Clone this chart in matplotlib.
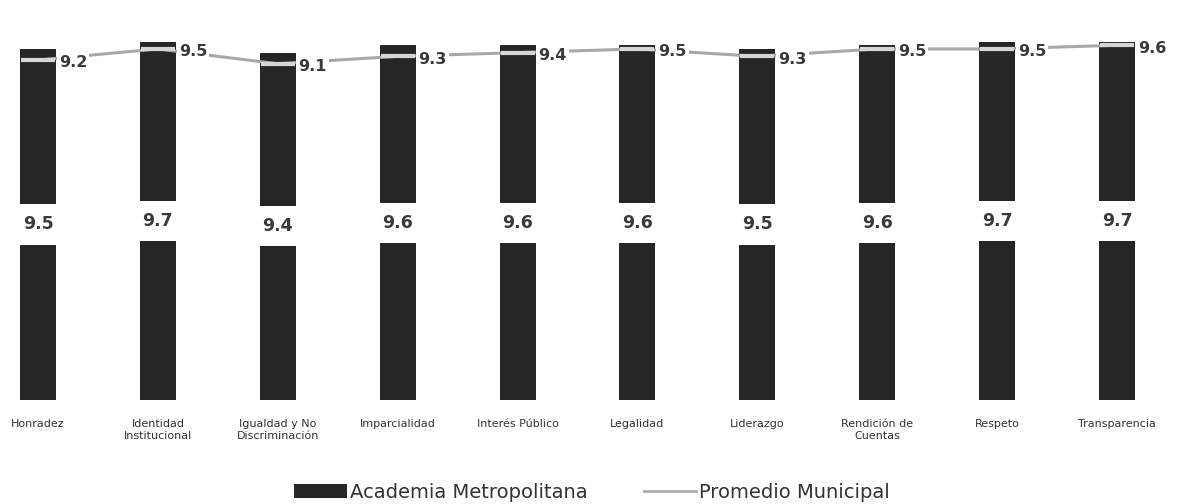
import numpy as np
import matplotlib.pyplot as plt
from matplotlib.lines import Line2D
from matplotlib.patches import Patch

categorias = ["Honradez", "Identidad\nInstitucional", "Igualdad y No\nDiscriminación",
              "Imparcialidad", "Interés Público", "Legalidad", "Liderazgo",
              "Rendición de\nCuentas", "Respeto", "Transparencia"]
academia = [9.5, 9.7, 9.4, 9.6, 9.6, 9.6, 9.5, 9.6, 9.7, 9.7]
promedio = [9.2, 9.5, 9.1, 9.3, 9.4, 9.5, 9.3, 9.5, 9.5, 9.6]

fig = plt.figure(figsize=(11.89, 5.04), dpi=100)
ax = fig.add_axes([0, 104 / 504, 1, 388 / 504])

x = np.arange(len(categorias))
bw = 0.3
ax.bar(x, academia, width=bw, color="#262626", zorder=1)
ax.plot(x, promedio, color="#a8a8a8", lw=2.2, marker="_", markersize=24,
        markeredgewidth=3, markeredgecolor="#d6d6d6", zorder=2)

# etiquetas de las barras, a media altura con fondo blanco
for xi, v in zip(x, academia):
    ax.text(xi, v / 2, f"{v:.1f}", ha="center", va="center", fontsize=12.5,
            fontweight="bold", color="#3a3a3a", zorder=3,
            bbox=dict(facecolor="white", edgecolor="none", pad=8))

# etiquetas del promedio municipal
for xi, v in zip(x, promedio):
    ax.annotate(f"{v:.1f}", xy=(xi + bw / 2, v), xytext=(2, -2),
                textcoords="offset points", ha="left", va="center",
                fontsize=11.5, fontweight="bold", color="#3a3a3a", zorder=3,
                bbox=dict(facecolor="white", edgecolor="none", pad=1.5))

ax.set_xlim(-0.317, 9.6)
ax.set_ylim(0, 10.5)
ax.set_xticks(x)
ax.set_xticklabels(categorias, fontsize=8, color="#333333")
ax.tick_params(axis="x", length=0, pad=14)
ax.set_yticks([])
for s in ax.spines.values():
    s.set_visible(False)

handles = [Patch(facecolor="#262626", label="Academia Metropolitana"),
           Line2D([0], [0], color="#b0b0b0", lw=2, label="Promedio Municipal")]
fig.legend(handles=handles, loc="lower center", bbox_to_anchor=(0.498, -0.03),
           ncol=2, frameon=False, fontsize=14, handlelength=2.7,
           handletextpad=0.15, columnspacing=2.9, labelcolor="#333333")

fig.savefig("out.png", dpi=100)
